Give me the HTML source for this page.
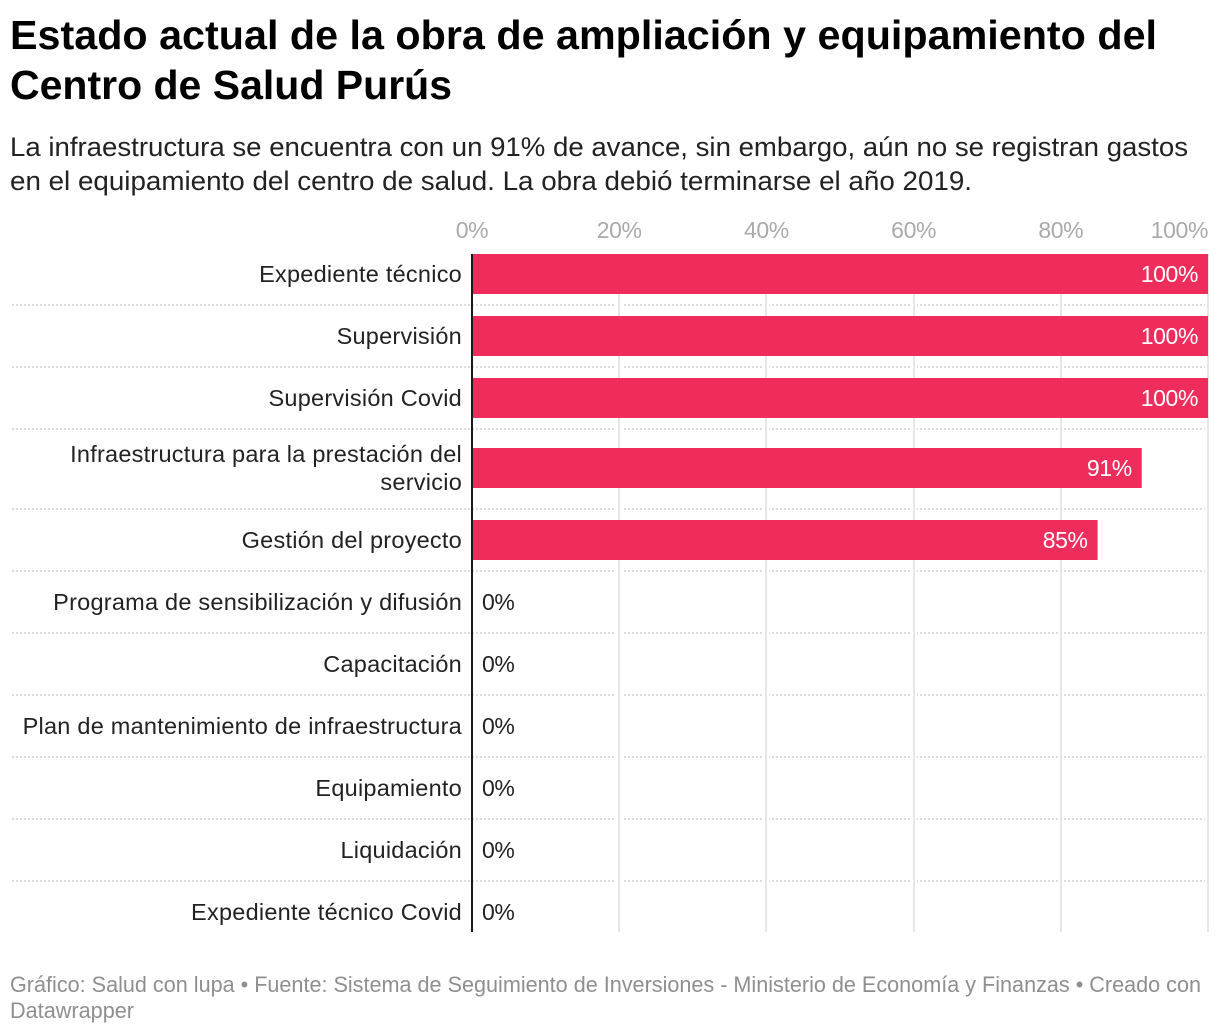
<!DOCTYPE html>
<html lang="es">
<head>
<meta charset="utf-8">
<title>Estado actual de la obra</title>
<style>
html,body{margin:0;padding:0;background:#fff;}
svg{display:block;}
text{font-family:"Liberation Sans",sans-serif;}
</style>
</head>
<body>
<svg id="chart" width="1220" height="1034" viewBox="0 0 1220 1034" xmlns="http://www.w3.org/2000/svg">
  <text x="10" y="49" font-size="41" font-weight="700" fill="#000" textLength="1147" lengthAdjust="spacingAndGlyphs">Estado actual de la obra de ampliación y equipamiento del</text>
  <text x="10" y="99" font-size="41" font-weight="700" fill="#000" textLength="442" lengthAdjust="spacingAndGlyphs">Centro de Salud Purús</text>
  <text x="10" y="156" font-size="27" fill="#222" textLength="1178" lengthAdjust="spacingAndGlyphs">La infraestructura se encuentra con un 91% de avance, sin embargo, aún no se registran gastos</text>
  <text x="10" y="190" font-size="27" fill="#222" textLength="962" lengthAdjust="spacingAndGlyphs">en el equipamiento del centro de salud. La obra debió terminarse el año 2019.</text>
  <g id="plot"></g>
  <text x="10" y="992" font-size="22" fill="#8f8f8f" textLength="1191" lengthAdjust="spacingAndGlyphs">Gráfico: Salud con lupa • Fuente: Sistema de Seguimiento de Inversiones - Ministerio de Economía y Finanzas • Creado con</text>
  <text x="10" y="1018" font-size="22" fill="#8f8f8f" textLength="124" lengthAdjust="spacingAndGlyphs">Datawrapper</text>
</svg>
<script>
const categories = ["Expediente técnico", "Supervisión", "Supervisión Covid", "Infraestructura para la prestación del|servicio", "Gestión del proyecto", "Programa de sensibilización y difusión", "Capacitación", "Plan de mantenimiento de infraestructura", "Equipamiento", "Liquidación", "Expediente técnico Covid"];
const values = [100, 100, 100, 91, 85, 0, 0, 0, 0, 0, 0];
const tickValues = [0, 20, 40, 60, 80, 100];

const NS = "http://www.w3.org/2000/svg";
const plot = document.getElementById("plot");
const X0 = 472, X1 = 1208, TOP = 243, BASE_ROW = 62, EXTRA_LINE = 18, BAR_H = 40;
const GRID_TOP = 254, GRID_BOTTOM = 932;
const xScale = v => X0 + (X1 - X0) * v / 100;

function make(tag, attrs, text) {
  const el = document.createElementNS(NS, tag);
  for (const k in attrs) el.setAttribute(k, attrs[k]);
  if (text !== undefined) el.textContent = text;
  plot.appendChild(el);
  return el;
}

// row layout derived from the number of label lines
let cursor = TOP;
const rows = categories.map(c => {
  const lines = c.split("|");
  const h = BASE_ROW + (lines.length - 1) * EXTRA_LINE;
  const r = { lines, top: cursor, h, mid: cursor + h / 2 - (lines.length - 1) };
  cursor += h;
  return r;
});

// row dividers
rows.slice(0, -1).forEach(r => {
  const y = r.top + r.h;
  const el = make("line", { x1: 12, x2: X1, y1: y, y2: y, stroke: "#dcdcdc", "stroke-width": 2, "stroke-dasharray": "2 2" });
  
  
});

// gridlines and tick labels
tickValues.forEach(t => {
  const x = xScale(t);
  const snapped = Math.round(x);
  if (t > 0) {
    const halo = make("line", { x1: snapped, x2: snapped, y1: GRID_TOP, y2: GRID_BOTTOM, stroke: "#fff", "stroke-width": 6 });
    
    
    const g = make("line", { x1: snapped, x2: snapped, y1: GRID_TOP, y2: GRID_BOTTOM, stroke: "#e6e6e6", "stroke-width": 2 });
    
    
  }
  const label = make("text", { x: x, y: 238, "font-size": 23, "letter-spacing": -0.4, fill: "#aaaaaa", "text-anchor": t === 100 ? "end" : "middle" }, t + "%");
  
  
});

// bars, value labels, category labels
rows.forEach((r, i) => {
  const v = values[i];
  const w = xScale(v) - X0;
  if (v > 0) {
    const bar = make("rect", { x: X0, y: r.mid - BAR_H / 2, width: w, height: BAR_H, fill: "#ee2d5d" });
    
    
  }
  const inside = v > 10;
  const vl = make("text", {
    x: inside ? xScale(v) - 10 : xScale(v) + 10,
    y: r.mid + 8,
    "font-size": 23,
    "letter-spacing": -0.4,
    fill: inside ? "#fff" : "#222",
    "text-anchor": inside ? "end" : "start"
  }, v + "%");
  
  
  r.lines.forEach((line, j) => {
    const y = r.mid + 8 + (j - (r.lines.length - 1) / 2) * 28;
    const cl = make("text", { x: 462, y: y, "font-size": 23.5, "letter-spacing": 0.24, fill: "#222", "text-anchor": "end" }, line);
    
    
  });
});

// zero axis line on top
const axis = make("line", { x1: X0, x2: X0, y1: GRID_TOP, y2: GRID_BOTTOM, stroke: "#1a1a1a", "stroke-width": 2 });


</script>
</body>
</html>
